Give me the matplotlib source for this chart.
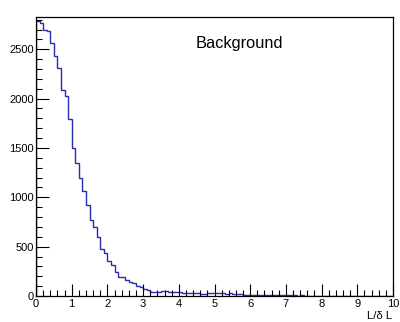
import numpy as np
import matplotlib
matplotlib.use("Agg")
import matplotlib.pyplot as plt
from matplotlib.ticker import MultipleLocator

plt.rcParams['font.family'] = ['Liberation Sans', 'DejaVu Sans']

# Histogram contents, 100 bins of width 0.1 from 0 to 10
bin_edges = np.linspace(0, 10, 101)
counts = [2785, 2770, 2690, 2680, 2567, 2430, 2305, 2090, 2025, 1790,
          1500, 1345, 1200, 1060, 920, 772, 700, 595, 480, 438,
          357, 311, 243, 195, 195, 165, 140, 130, 105, 95,
          75, 60, 45, 38, 45, 55, 50, 42, 38, 36,
          38, 35, 30, 32, 28, 27, 25, 24, 26, 30,
          30, 28, 27, 25, 27, 22, 20, 18, 14, 10,
          10, 12, 15, 8, 12, 10, 8, 15, 12, 6,
          8, 6, 7, 5, 6, 5, 4, 5, 4, 3,
          3, 4, 3, 5, 3, 2, 3, 4, 2, 3,
          2, 3, 2, 2, 3, 2, 1, 2, 2, 1]

fig = plt.figure(figsize=(4.0, 3.22), dpi=100)
ax = fig.add_axes([0.09, 0.0807, 0.8925, 0.866])

ax.stairs(counts, bin_edges, color='#2b2bb0', lw=1.0)

ax.set_xlim(0, 10)
ax.set_ylim(0, 2825)

ax.xaxis.set_major_locator(MultipleLocator(1))
ax.xaxis.set_minor_locator(MultipleLocator(0.2))
ax.yaxis.set_major_locator(MultipleLocator(500))
ax.yaxis.set_minor_locator(MultipleLocator(100))
ax.tick_params(which='both', direction='in', labelsize=8.0, pad=1.5)
ax.tick_params(which='major', length=9, width=0.8)
ax.tick_params(which='minor', length=4.5, width=0.8)
ax.tick_params(axis='x', pad=2.5)

for s in ax.spines.values():
    s.set_linewidth(0.9)

ax.text(0.57, 0.905, 'Background', transform=ax.transAxes, fontsize=11.8,
        ha='center', va='center')
ax.text(0.997, -0.0824, 'L/\u03b4 L', transform=ax.transAxes, fontsize=8.2,
        ha='right', va='baseline')

fig.savefig('out.png', dpi=100)
